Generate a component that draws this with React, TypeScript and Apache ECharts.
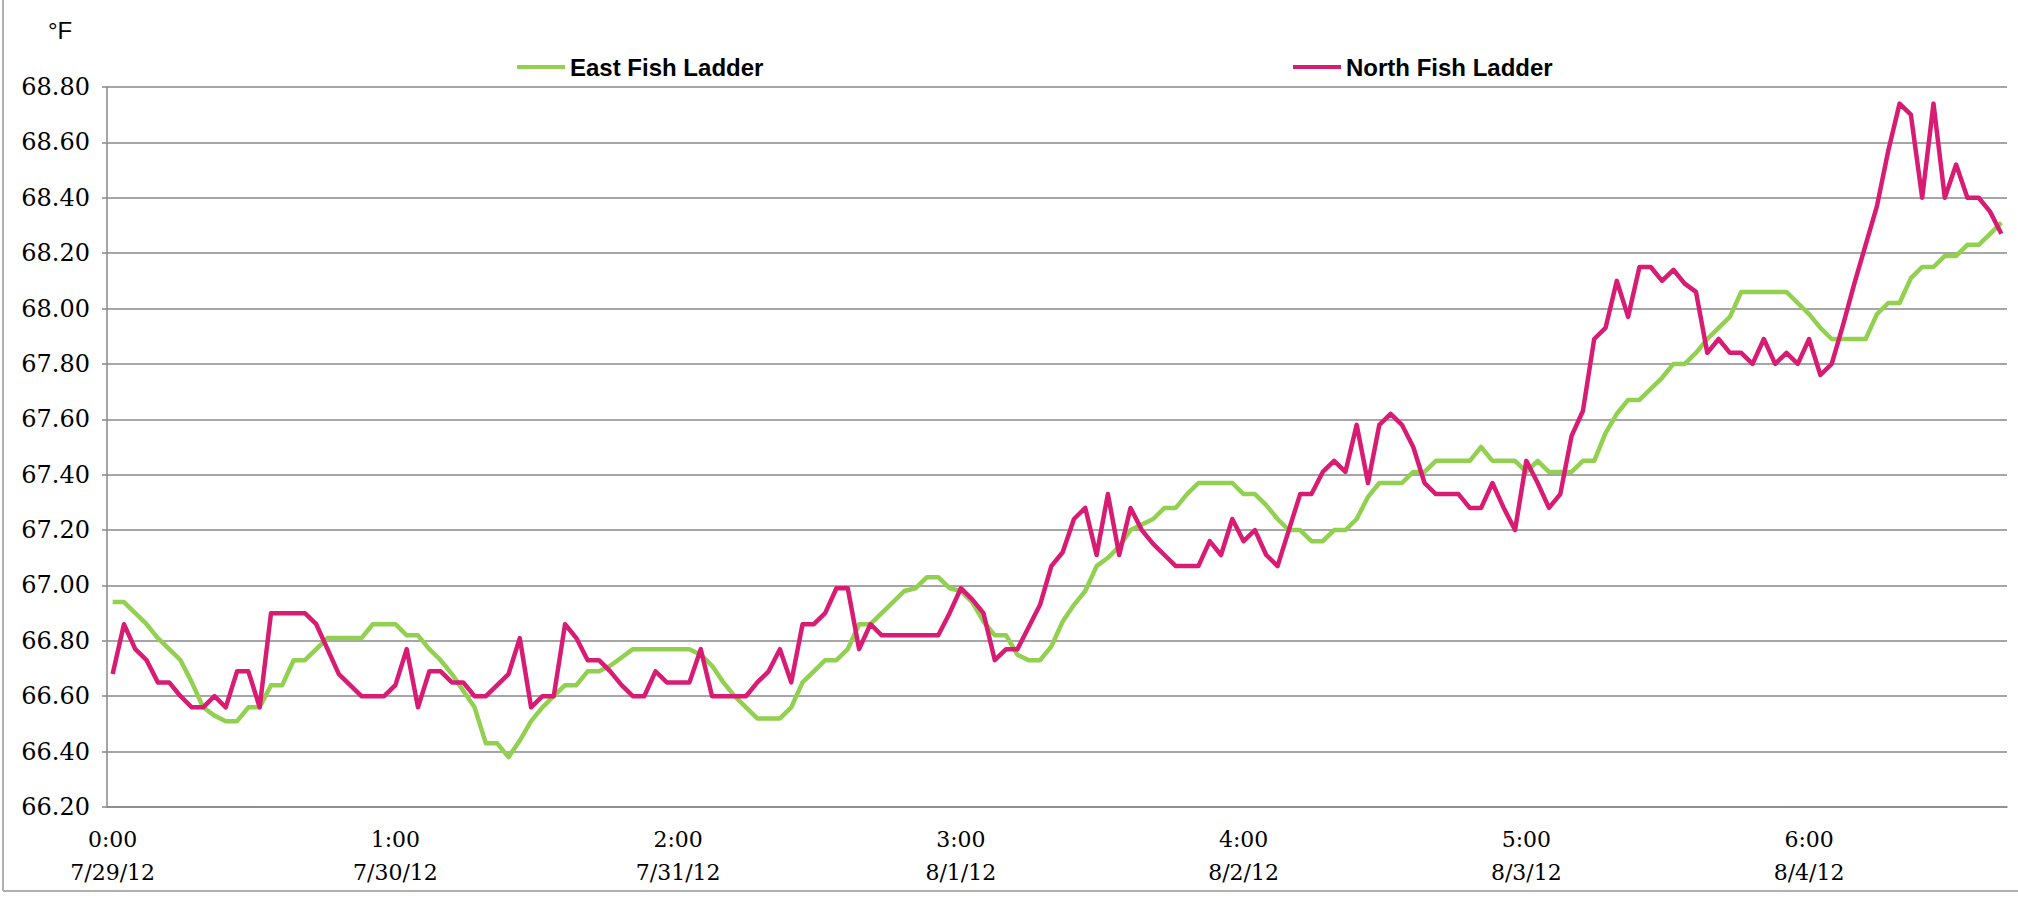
import React, { useEffect, useRef } from "react";
import * as echarts from "echarts";

const SERIES_NAMES = ["East Fish Ladder", "North Fish Ladder"];
const SERIES_COLORS = ["#92D050", "#D81B73"];

// East Fish Ladder temperature (°F), hourly
const EAST = [
  66.94, 66.94, 66.90, 66.86, 66.81, 66.77, 66.73, 66.65, 66.56, 66.53,
  66.51, 66.51, 66.56, 66.56, 66.64, 66.64, 66.73, 66.73, 66.77, 66.81,
  66.81, 66.81, 66.81, 66.86, 66.86, 66.86, 66.82, 66.82, 66.77, 66.73,
  66.68, 66.62, 66.56, 66.43, 66.43, 66.38, 66.44, 66.51, 66.56, 66.60,
  66.64, 66.64, 66.69, 66.69, 66.71, 66.74, 66.77, 66.77, 66.77, 66.77,
  66.77, 66.77, 66.75, 66.71, 66.65, 66.60, 66.56, 66.52, 66.52, 66.52,
  66.56, 66.65, 66.69, 66.73, 66.73, 66.77, 66.86, 66.86, 66.90, 66.94,
  66.98, 66.99, 67.03, 67.03, 66.99, 66.98, 66.94, 66.87, 66.82, 66.82,
  66.75, 66.73, 66.73, 66.78, 66.87, 66.93, 66.98, 67.07, 67.10, 67.14,
  67.20, 67.22, 67.24, 67.28, 67.28, 67.33, 67.37, 67.37, 67.37, 67.37,
  67.33, 67.33, 67.29, 67.24, 67.20, 67.20, 67.16, 67.16, 67.20, 67.20,
  67.24, 67.32, 67.37, 67.37, 67.37, 67.41, 67.41, 67.45, 67.45, 67.45,
  67.45, 67.50, 67.45, 67.45, 67.45, 67.41, 67.45, 67.41, 67.41, 67.41,
  67.45, 67.45, 67.55, 67.62, 67.67, 67.67, 67.71, 67.75, 67.80, 67.80,
  67.84, 67.89, 67.93, 67.97, 68.06, 68.06, 68.06, 68.06, 68.06, 68.02,
  67.98, 67.93, 67.89, 67.89, 67.89, 67.89, 67.98, 68.02, 68.02, 68.11,
  68.15, 68.15, 68.19, 68.19, 68.23, 68.23, 68.27, 68.31,
];

// North Fish Ladder temperature (°F), hourly
const NORTH = [
  66.68, 66.86, 66.77, 66.73, 66.65, 66.65, 66.60, 66.56, 66.56, 66.60,
  66.56, 66.69, 66.69, 66.56, 66.90, 66.90, 66.90, 66.90, 66.86, 66.77,
  66.68, 66.64, 66.60, 66.60, 66.60, 66.64, 66.77, 66.56, 66.69, 66.69,
  66.65, 66.65, 66.60, 66.60, 66.64, 66.68, 66.81, 66.56, 66.60, 66.60,
  66.86, 66.81, 66.73, 66.73, 66.69, 66.64, 66.60, 66.60, 66.69, 66.65,
  66.65, 66.65, 66.77, 66.60, 66.60, 66.60, 66.60, 66.65, 66.69, 66.77,
  66.65, 66.86, 66.86, 66.90, 66.99, 66.99, 66.77, 66.86, 66.82, 66.82,
  66.82, 66.82, 66.82, 66.82, 66.90, 66.99, 66.95, 66.90, 66.73, 66.77,
  66.77, 66.85, 66.93, 67.07, 67.12, 67.24, 67.28, 67.11, 67.33, 67.11,
  67.28, 67.20, 67.15, 67.11, 67.07, 67.07, 67.07, 67.16, 67.11, 67.24,
  67.16, 67.20, 67.11, 67.07, 67.20, 67.33, 67.33, 67.41, 67.45, 67.41,
  67.58, 67.37, 67.58, 67.62, 67.58, 67.50, 67.37, 67.33, 67.33, 67.33,
  67.28, 67.28, 67.37, 67.28, 67.20, 67.45, 67.37, 67.28, 67.33, 67.54,
  67.63, 67.89, 67.93, 68.10, 67.97, 68.15, 68.15, 68.10, 68.14, 68.09,
  68.06, 67.84, 67.89, 67.84, 67.84, 67.80, 67.89, 67.80, 67.84, 67.80,
  67.89, 67.76, 67.80, 67.94, 68.09, 68.23, 68.37, 68.57, 68.74, 68.70,
  68.40, 68.74, 68.40, 68.52, 68.40, 68.40, 68.35, 68.27,
];

// hourly readings starting 7/29/12 0:00
const START_UTC = Date.UTC(2012, 6, 29, 0, 0);
const HOUR_MS = 3600000;
const CATEGORIES = EAST.map((_, i) => {
  const d = new Date(START_UTC + i * HOUR_MS);
  const yy = String(d.getUTCFullYear()).slice(2);
  return `${d.getUTCHours()}:00\n${d.getUTCMonth() + 1}/${d.getUTCDate()}/${yy}`;
});
const LABEL_EVERY = 25;

const Y_MIN = 66.2;
const Y_MAX = 68.8;
const Y_STEP = 0.2;
const UNIT = "°F";

const AXIS_FONT = '"DejaVu Serif", serif';
const LEGEND_FONT = '"Liberation Sans", Arial, sans-serif';

export default function App() {
  const ref = useRef<HTMLDivElement>(null);

  useEffect(() => {
    if (!ref.current) return;
    const chart = echarts.init(ref.current, undefined, { renderer: "svg" });
    const legendCommon = {
      padding: 0,
      icon: "rect",
      itemWidth: 48,
      itemHeight: 4,
      textStyle: {
        fontFamily: LEGEND_FONT,
        fontSize: 24,
        fontWeight: "bold" as const,
        color: "#000",
        lineHeight: 26,
      },
    };
    chart.setOption({
      animation: false,
      backgroundColor: "#ffffff",
      grid: { left: 107, right: 11, top: 87, bottom: 91, containLabel: false },
      legend: [
        { ...legendCommon, data: [SERIES_NAMES[0]], left: 517, top: 54 },
        { ...legendCommon, data: [SERIES_NAMES[1]], left: 1293, top: 54 },
      ],
      xAxis: {
        type: "category",
        data: CATEGORIES,
        boundaryGap: true,
        axisLine: { show: true, lineStyle: { color: "#888888", width: 1.5 } },
        axisTick: { show: false },
        axisLabel: {
          interval: LABEL_EVERY - 1,
          fontFamily: AXIS_FONT,
          fontSize: 22,
          lineHeight: 33,
          margin: 16,
          color: "#000",
        },
        splitLine: { show: false },
      },
      yAxis: {
        type: "value",
        min: Y_MIN,
        max: Y_MAX,
        interval: Y_STEP,
        axisLine: { show: true, lineStyle: { color: "#888888", width: 1.5 } },
        axisTick: { show: true, length: 5, lineStyle: { color: "#888888", width: 1.5 } },
        axisLabel: {
          formatter: (v: number) => v.toFixed(2),
          fontFamily: AXIS_FONT,
          fontSize: 24,
          margin: 17,
          color: "#000",
        },
        splitLine: { show: true, lineStyle: { color: "#888888", width: 1.5 } },
      },
      series: [
        {
          name: SERIES_NAMES[0],
          type: "line",
          data: EAST,
          symbol: "none",
          color: SERIES_COLORS[0],
          lineStyle: { color: SERIES_COLORS[0], width: 4.5, join: "round" },
        },
        {
          name: SERIES_NAMES[1],
          type: "line",
          data: NORTH,
          symbol: "none",
          color: SERIES_COLORS[1],
          lineStyle: { color: SERIES_COLORS[1], width: 4.5, join: "round" },
        },
      ],
      graphic: [
        {
          type: "text",
          left: 48,
          top: 18,
          style: { text: UNIT, font: `24px ${LEGEND_FONT}`, fill: "#000" },
        },
        {
          type: "line",
          shape: { x1: 3, y1: 0, x2: 3, y2: 891 },
          style: { stroke: "#b0b0b0", lineWidth: 2 },
        },
        {
          type: "line",
          shape: { x1: 3, y1: 891, x2: 2018, y2: 891 },
          style: { stroke: "#b0b0b0", lineWidth: 2 },
        },
      ],
    });
    return () => chart.dispose();
  }, []);

  return (
    <div
      ref={ref}
      style={{ position: "fixed", left: 0, top: 0, width: 2018, height: 898 }}
    />
  );
}
